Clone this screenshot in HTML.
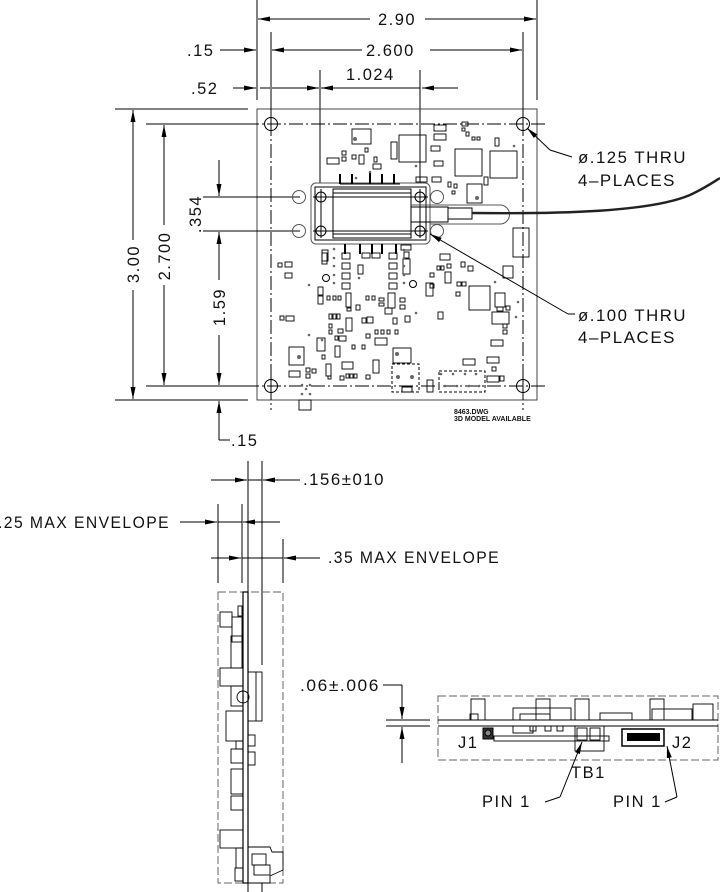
<!DOCTYPE html>
<html><head><meta charset="utf-8"><style>
html,body{margin:0;padding:0;background:#fff}
svg{display:block}
text{font-family:"Liberation Sans",sans-serif;font-size:16.5px;fill:#111;letter-spacing:1.5px}
</style></head><body>
<svg width="720" height="892" viewBox="0 0 720 892" xmlns="http://www.w3.org/2000/svg">
<defs>
<marker id="a" viewBox="0 0 12 5" refX="12" refY="2.5" markerWidth="12" markerHeight="5" markerUnits="userSpaceOnUse" orient="auto"><path d="M0,0L12,2.5L0,5z" fill="#000"/></marker>
</defs>
<g stroke="#000" stroke-width="1" fill="none">
<line x1="257" y1="0" x2="257" y2="100"/><line x1="537" y1="0" x2="537" y2="100"/>
<line x1="370" y1="19" x2="258" y2="19" marker-end="url(#a)"/><line x1="425" y1="19" x2="536" y2="19" marker-end="url(#a)"/>
<line x1="271" y1="32" x2="271" y2="100"/><line x1="523" y1="32" x2="523" y2="100"/>
<line x1="220" y1="50" x2="256" y2="50" marker-end="url(#a)"/>
<line x1="362" y1="50" x2="272" y2="50" marker-end="url(#a)"/><line x1="430" y1="50" x2="522" y2="50" marker-end="url(#a)"/>
<line x1="233" y1="88" x2="256" y2="88" marker-end="url(#a)"/>
<line x1="260" y1="88" x2="270" y2="88"/>
<line x1="272" y1="88" x2="319" y2="88" marker-end="url(#a)"/>
<line x1="420" y1="88" x2="321" y2="88" marker-end="url(#a)"/>
<line x1="458" y1="88" x2="422" y2="88" marker-end="url(#a)"/>
<line x1="320" y1="70" x2="320" y2="183"/><line x1="420" y1="70" x2="420" y2="183"/>
<rect x="257" y="109" width="280" height="291" stroke="#444"/>
<g stroke-dasharray="14,3,2,3">
<line x1="271" y1="100" x2="271" y2="410"/><line x1="523" y1="100" x2="523" y2="410"/>
<line x1="245" y1="124" x2="548" y2="124"/><line x1="245" y1="386" x2="548" y2="386"/>
</g>
<line x1="146" y1="124" x2="245" y2="124"/><line x1="146" y1="386" x2="245" y2="386"/>
<line x1="115" y1="109" x2="248" y2="109"/><line x1="115" y1="400" x2="248" y2="400"/>
<line x1="203" y1="197" x2="300" y2="197"/><line x1="203" y1="231" x2="300" y2="231"/>
<line x1="133" y1="240" x2="133" y2="110" marker-end="url(#a)"/><line x1="133" y1="290" x2="133" y2="399" marker-end="url(#a)"/>
<line x1="164" y1="225" x2="164" y2="125" marker-end="url(#a)"/><line x1="164" y1="285" x2="164" y2="385" marker-end="url(#a)"/>
<line x1="219" y1="160" x2="219" y2="196" marker-end="url(#a)"/>
<line x1="219" y1="280" x2="219" y2="232" marker-end="url(#a)"/><line x1="219" y1="335" x2="219" y2="385" marker-end="url(#a)"/>
<line x1="219" y1="440" x2="219" y2="401" marker-end="url(#a)"/><line x1="219" y1="440" x2="230" y2="440"/>
<circle cx="271" cy="124" r="6.5"/><circle cx="523" cy="124" r="6.5"/><circle cx="271" cy="386" r="6.5"/><circle cx="523" cy="386" r="6.5"/>
<line x1="271" y1="114" x2="271" y2="134"/><line x1="523" y1="114" x2="523" y2="134"/><line x1="271" y1="376" x2="271" y2="396"/><line x1="523" y1="376" x2="523" y2="396"/>
<rect x="311" y="183" width="119" height="61" rx="5" stroke="#555"/>
<rect x="315" y="187" width="111" height="53"/>
<rect x="333" y="189" width="78" height="49"/>
<line x1="333" y1="193" x2="411" y2="193"/><line x1="333" y1="234" x2="411" y2="234"/>
<circle cx="321" cy="197" r="5"/><circle cx="420" cy="197" r="5"/><circle cx="321" cy="231" r="5"/><circle cx="420" cy="231" r="5"/>
<line x1="321" y1="189" x2="321" y2="238"/><line x1="420" y1="189" x2="420" y2="238"/>
<line x1="313" y1="197" x2="428" y2="197"/><line x1="313" y1="231" x2="428" y2="231"/>
<circle cx="299" cy="197" r="6.5" stroke="#555"/><circle cx="437" cy="197" r="6.5" stroke="#555"/><circle cx="299" cy="231" r="6.5" stroke="#555"/><circle cx="437" cy="231" r="6.5" stroke="#555"/>
<path d="M411,205 H500 A9.5,9.5 0 0 1 500,224 H430" stroke="#555"/>
<rect x="411" y="207" width="37" height="15"/><rect x="448" y="208" width="24" height="11"/>
<path d="M472,213 C560,214 650,212 690,195 C705,188 712,183 720,178" stroke="#222" stroke-width="2.4"/>
<g stroke-width="2">
<line x1="340" y1="174" x2="340" y2="184"/><line x1="352" y1="174" x2="352" y2="184"/><line x1="370" y1="172" x2="370" y2="184"/><line x1="382" y1="174" x2="382" y2="184"/><line x1="394" y1="174" x2="394" y2="184"/>
<line x1="345" y1="244" x2="345" y2="254"/><line x1="360" y1="244" x2="360" y2="254"/><line x1="372" y1="244" x2="372" y2="254"/><line x1="382" y1="244" x2="382" y2="254"/><line x1="396" y1="244" x2="396" y2="254"/>
</g>
<line x1="340" y1="184" x2="400" y2="184"/>
<g stroke-width="0.9">
<rect x="352" y="129" width="19" height="15"/><rect x="399" y="135" width="27" height="27"/><rect x="391" y="142" width="6" height="17"/>
<rect x="434" y="125" width="12" height="6"/><rect x="434" y="134" width="12" height="6"/><rect x="431" y="146" width="9" height="5"/><rect x="434" y="161" width="9" height="5"/>
<rect x="455" y="149" width="27" height="27"/><rect x="490" y="151" width="27" height="27"/><rect x="495" y="138" width="4" height="8"/>
<rect x="467" y="184" width="15" height="19"/><rect x="484" y="177" width="4" height="8"/><rect x="327" y="158" width="12" height="6"/><rect x="359" y="155" width="5" height="9"/><rect x="373" y="164" width="8" height="5"/>
<rect x="462" y="122" width="6" height="4"/><rect x="462" y="128" width="3" height="3"/><rect x="466" y="132" width="3" height="4"/><rect x="472" y="137" width="3" height="3"/><rect x="477" y="137" width="3" height="3"/>
<rect x="342" y="151" width="4" height="4"/><rect x="342" y="157" width="4" height="4"/><rect x="352" y="155" width="4" height="4"/><rect x="365" y="148" width="3" height="4"/><rect x="374" y="157" width="3" height="5"/>
<rect x="416" y="177" width="11" height="5"/><rect x="432" y="177" width="9" height="5"/><rect x="448" y="182" width="3" height="5"/><rect x="454" y="184" width="3" height="4"/><rect x="452" y="191" width="3" height="3"/>
<rect x="513" y="228" width="16" height="29"/><rect x="503" y="266" width="10" height="12"/><rect x="469" y="286" width="21" height="24"/><rect x="492" y="312" width="17" height="12"/><rect x="491" y="340" width="12" height="6"/><rect x="463" y="359" width="12" height="6"/>
<rect x="289" y="347" width="15" height="18"/><rect x="393" y="348" width="18" height="15"/><rect x="427" y="380" width="6" height="12"/><rect x="299" y="400" width="12" height="10"/>
<rect x="317" y="338" width="8" height="13"/><rect x="335" y="346" width="5" height="11"/><rect x="373" y="360" width="6" height="13"/><rect x="342" y="362" width="11" height="7"/><rect x="375" y="338" width="12" height="7"/>
<rect x="318" y="287" width="5" height="8"/><rect x="322" y="250" width="6" height="11"/><rect x="426" y="283" width="7" height="13"/><rect x="445" y="272" width="6" height="11"/><rect x="438" y="312" width="5" height="7"/>
<rect x="285" y="262" width="7" height="5"/><rect x="285" y="273" width="7" height="5"/><rect x="278" y="263" width="4" height="4"/><rect x="289" y="371" width="11" height="6"/><rect x="286" y="316" width="8" height="5"/><rect x="280" y="316" width="4" height="4"/>
<rect x="342" y="253" width="8" height="6"/><rect x="342" y="263" width="8" height="6"/><rect x="342" y="273" width="8" height="6"/><rect x="342" y="283" width="8" height="6"/>
<rect x="389" y="253" width="8" height="6"/><rect x="389" y="263" width="8" height="6"/><rect x="389" y="273" width="8" height="6"/><rect x="389" y="283" width="8" height="6"/>
<rect x="362" y="253" width="8" height="5"/><rect x="372" y="253" width="8" height="5"/><rect x="322" y="253" width="5" height="11"/><rect x="358" y="265" width="5" height="9"/>
<rect x="318" y="296" width="5" height="8"/><rect x="327" y="296" width="3" height="4"/><rect x="333" y="296" width="3" height="4"/><rect x="338" y="296" width="3" height="4"/>
<rect x="346" y="293" width="5" height="14"/><rect x="347" y="308" width="4" height="3"/><rect x="356" y="305" width="4" height="5"/><rect x="366" y="296" width="3" height="4"/><rect x="372" y="296" width="3" height="4"/>
<rect x="388" y="293" width="7" height="15"/><rect x="379" y="298" width="5" height="3"/><rect x="379" y="303" width="5" height="3"/><rect x="385" y="308" width="7" height="6"/><rect x="400" y="298" width="5" height="4"/><rect x="400" y="305" width="5" height="4"/>
<rect x="346" y="318" width="6" height="13"/><rect x="362" y="318" width="4" height="5"/><rect x="367" y="317" width="6" height="6"/><rect x="393" y="318" width="4" height="6"/><rect x="405" y="316" width="5" height="6"/>
<rect x="329" y="314" width="3" height="5"/><rect x="333" y="314" width="3" height="5"/><rect x="337" y="314" width="3" height="5"/><rect x="329" y="324" width="3" height="4"/><rect x="329" y="330" width="3" height="4"/>
<rect x="338" y="329" width="5" height="4"/><rect x="366" y="334" width="4" height="4"/><rect x="375" y="330" width="3" height="4"/><rect x="381" y="330" width="3" height="4"/><rect x="387" y="330" width="3" height="4"/><rect x="395" y="330" width="3" height="4"/>
<rect x="339" y="336" width="7" height="5"/><rect x="335" y="336" width="3" height="4"/><rect x="352" y="345" width="3" height="4"/><rect x="362" y="345" width="3" height="4"/>
<rect x="440" y="254" width="10" height="6"/><rect x="437" y="266" width="3" height="4"/><rect x="441" y="266" width="3" height="4"/><rect x="447" y="264" width="4" height="4"/><rect x="461" y="262" width="4" height="5"/><rect x="468" y="266" width="5" height="5"/>
<rect x="430" y="273" width="4" height="4"/><rect x="430" y="284" width="4" height="4"/><rect x="457" y="282" width="4" height="4"/><rect x="462" y="282" width="4" height="4"/><rect x="456" y="292" width="4" height="4"/>
<rect x="495" y="293" width="10" height="14"/><rect x="497" y="307" width="6" height="4"/><rect x="506" y="306" width="4" height="4"/><rect x="503" y="324" width="4" height="4"/><rect x="503" y="330" width="4" height="4"/><rect x="487" y="357" width="12" height="6"/><rect x="492" y="367" width="4" height="4"/><rect x="487" y="376" width="12" height="6"/><rect x="500" y="376" width="4" height="5"/>
<rect x="403" y="259" width="7" height="15"/><rect x="404" y="252" width="5" height="6"/><rect x="401" y="245" width="10" height="5"/>
<rect x="322" y="355" width="3" height="4"/><rect x="326" y="364" width="5" height="12"/><rect x="328" y="376" width="3" height="3"/><rect x="306" y="368" width="4" height="4"/><rect x="312" y="369" width="4" height="4"/><rect x="306" y="374" width="4" height="4"/>
<rect x="340" y="376" width="4" height="4"/><rect x="346" y="374" width="3" height="4"/><rect x="350" y="374" width="3" height="4"/><rect x="354" y="374" width="3" height="4"/><rect x="366" y="375" width="4" height="4"/>
</g>
<g stroke-dasharray="3,2"><rect x="392" y="364" width="27" height="28"/><rect x="439" y="371" width="46" height="21"/></g>
<rect x="402" y="387" width="10" height="5"/>
<g fill="#666" stroke="none">
<circle cx="355" cy="139" r="2"/><circle cx="477" cy="198" r="2"/><circle cx="299" cy="357" r="2"/><circle cx="397" cy="354" r="2"/><circle cx="398" cy="377" r="2"/><circle cx="412" cy="377" r="2"/>
<circle cx="514" cy="146" r="1.3"/><circle cx="416" cy="166" r="1.3"/><circle cx="356" cy="178" r="1.3"/><circle cx="370" cy="172" r="1.3"/>
<circle cx="334" cy="249" r="1.3"/><circle cx="334" cy="258" r="1.3"/><circle cx="334" cy="266" r="1.3"/><circle cx="334" cy="275" r="1.3"/><circle cx="334" cy="283" r="1.3"/>
<circle cx="404" cy="250" r="1.3"/><circle cx="404" cy="258" r="1.3"/><circle cx="404" cy="266" r="1.3"/><circle cx="404" cy="275" r="1.3"/><circle cx="404" cy="283" r="1.3"/>
<circle cx="309" cy="285" r="1.3"/><circle cx="359" cy="278" r="1.3"/><circle cx="309" cy="335" r="1.3"/><circle cx="322" cy="340" r="1.3"/><circle cx="416" cy="313" r="1.3"/><circle cx="495" cy="282" r="1.3"/><circle cx="518" cy="302" r="1.3"/><circle cx="516" cy="317" r="1.3"/>
<circle cx="441" cy="374" r="1.3"/><circle cx="453" cy="374" r="1.3"/><circle cx="465" cy="374" r="1.3"/><circle cx="476" cy="374" r="1.3"/><circle cx="445" cy="386" r="1.3"/><circle cx="457" cy="386" r="1.3"/><circle cx="469" cy="386" r="1.3"/><circle cx="479" cy="386" r="1.3"/>
<circle cx="302" cy="385" r="1.3"/><circle cx="302" cy="394" r="1.3"/><circle cx="310" cy="385" r="1.3"/><circle cx="310" cy="394" r="1.3"/><circle cx="306" cy="389" r="1.3"/>
</g>
<circle cx="326" cy="278" r="3.5"/><circle cx="413" cy="284" r="3.5"/>
<line x1="550" y1="150" x2="527" y2="128" marker-end="url(#a)"/><line x1="550" y1="150" x2="572" y2="157"/>
<line x1="568" y1="314" x2="430" y2="234" marker-end="url(#a)"/><line x1="568" y1="314" x2="575" y2="314"/>
<line x1="248" y1="461" x2="248" y2="892"/><line x1="262" y1="461" x2="262" y2="665"/><line x1="262" y1="883" x2="262" y2="892"/>
<line x1="211" y1="480" x2="247" y2="480" marker-end="url(#a)"/><line x1="300" y1="480" x2="263" y2="480" marker-end="url(#a)"/><line x1="248" y1="480" x2="262" y2="480"/>
<line x1="218" y1="504" x2="218" y2="583"/><line x1="242" y1="504" x2="242" y2="583"/><line x1="283" y1="539" x2="283" y2="583"/>
<line x1="180" y1="522" x2="217" y2="522" marker-end="url(#a)"/><line x1="280" y1="522" x2="243" y2="522" marker-end="url(#a)"/><line x1="218" y1="522" x2="242" y2="522"/>
<line x1="211" y1="558" x2="241" y2="558" marker-end="url(#a)"/><line x1="320" y1="558" x2="284" y2="558" marker-end="url(#a)"/><line x1="242" y1="558" x2="283" y2="558"/>
<rect x="218" y="592" width="65" height="291" stroke="#666" stroke-dasharray="8,3"/>
<rect x="243" y="592" width="5" height="291" stroke-width="1.2"/>
<g stroke-width="0.9">
<rect x="220" y="612" width="12" height="15"/><rect x="232" y="617" width="10" height="25"/><rect x="238" y="606" width="4" height="10"/>
<rect x="231" y="636" width="11" height="32"/><rect x="220" y="668" width="23" height="18"/><rect x="231" y="686" width="12" height="20"/><circle cx="243" cy="697" r="6"/>
<rect x="226" y="711" width="17" height="30"/><rect x="236" y="741" width="7" height="8"/><rect x="231" y="749" width="12" height="14"/><rect x="231" y="769" width="12" height="25"/><rect x="231" y="796" width="12" height="14"/>
<rect x="220" y="830" width="23" height="18"/><rect x="236" y="848" width="7" height="20"/><rect x="235" y="868" width="8" height="13"/>
<rect x="248" y="672" width="14" height="49"/><line x1="256" y1="672" x2="256" y2="721"/><rect x="248" y="735" width="7" height="11"/><rect x="248" y="752" width="7" height="13"/>
<path d="M248,847 H270 L272,852 H283 V870 L270,876 V883 H248"/><rect x="252" y="854" width="14" height="11"/><rect x="254" y="865" width="16" height="10"/>
</g>
<line x1="386" y1="720" x2="430" y2="720"/><line x1="386" y1="726" x2="430" y2="726"/>
<line x1="402" y1="685" x2="402" y2="719" marker-end="url(#a)"/><line x1="402" y1="763" x2="402" y2="727" marker-end="url(#a)"/>
<line x1="383" y1="685" x2="402" y2="685"/>
<rect x="438" y="696" width="280" height="64" stroke="#666" stroke-dasharray="8,3"/>
<line x1="438" y1="720" x2="718" y2="720"/><line x1="438" y1="726" x2="718" y2="726"/>
<g stroke-width="0.9">
<rect x="471" y="699" width="14" height="21"/><rect x="536" y="699" width="14" height="21"/><rect x="575" y="699" width="14" height="21"/><rect x="650" y="699" width="14" height="21"/><rect x="693" y="704" width="20" height="16"/>
<rect x="513" y="708" width="58" height="12"/><rect x="652" y="709" width="40" height="11"/><rect x="470" y="714" width="8" height="6"/><rect x="520" y="714" width="30" height="6"/><rect x="600" y="713" width="32" height="7"/>
<rect x="494" y="736" width="115" height="5"/><rect x="513" y="726" width="20" height="7"/><rect x="530" y="726" width="6" height="5"/><rect x="545" y="726" width="6" height="5"/><rect x="557" y="726" width="6" height="5"/>
<rect x="575" y="726" width="29" height="25"/><rect x="577" y="728" width="10" height="12"/><rect x="590" y="728" width="10" height="12"/>
<rect x="622" y="729" width="42" height="17" stroke-width="1.5"/>
</g>
<rect x="483" y="728" width="10" height="11" fill="#333"/><circle cx="488" cy="733" r="3" fill="#888"/>
<g fill="#000" stroke="none"><rect x="627" y="733" width="33" height="8"/></g>
<line x1="560" y1="797" x2="582" y2="742" marker-end="url(#a)"/><line x1="545" y1="802" x2="560" y2="797"/>
<line x1="677" y1="797" x2="667" y2="746" marker-end="url(#a)"/><line x1="665" y1="802" x2="677" y2="797"/>
</g>
<text x="378" y="25">2.90</text>
<text x="187" y="56">.15</text>
<text x="366" y="56">2.600</text>
<text x="191" y="94">.52</text>
<text x="346" y="80">1.024</text>
<text transform="translate(139,264) rotate(-90)" text-anchor="middle">3.00</text>
<text transform="translate(170,256) rotate(-90)" text-anchor="middle">2.700</text>
<text transform="translate(225,307) rotate(-90)" text-anchor="middle">1.59</text>
<text transform="translate(201,214) rotate(-90)" text-anchor="middle">.354</text>
<text x="231" y="446">.15</text>
<text x="578" y="163" textLength="109" lengthAdjust="spacingAndGlyphs">ø.125 THRU</text>
<text x="578" y="186" textLength="98" lengthAdjust="spacingAndGlyphs">4–PLACES</text>
<text x="578" y="321" textLength="109" lengthAdjust="spacingAndGlyphs">ø.100 THRU</text>
<text x="578" y="343" textLength="98" lengthAdjust="spacingAndGlyphs">4–PLACES</text>
<text x="454" y="414" style="font-size:7px;font-weight:bold;letter-spacing:0">8463.DWG</text>
<text x="454" y="421" style="font-size:7px;font-weight:bold;letter-spacing:0">3D MODEL AVAILABLE</text>
<text x="303" y="485" textLength="82" lengthAdjust="spacingAndGlyphs">.156±010</text>
<text x="-2" y="528" textLength="172" lengthAdjust="spacingAndGlyphs">.25 MAX ENVELOPE</text>
<text x="328" y="563" textLength="172" lengthAdjust="spacingAndGlyphs">.35 MAX ENVELOPE</text>
<text x="300" y="691" textLength="80" lengthAdjust="spacingAndGlyphs">.06±.006</text>
<text x="458" y="748">J1</text>
<text x="672" y="748">J2</text>
<text x="571" y="778">TB1</text>
<text x="482" y="807">PIN 1</text>
<text x="613" y="807">PIN 1</text>
</svg>
</body></html>
